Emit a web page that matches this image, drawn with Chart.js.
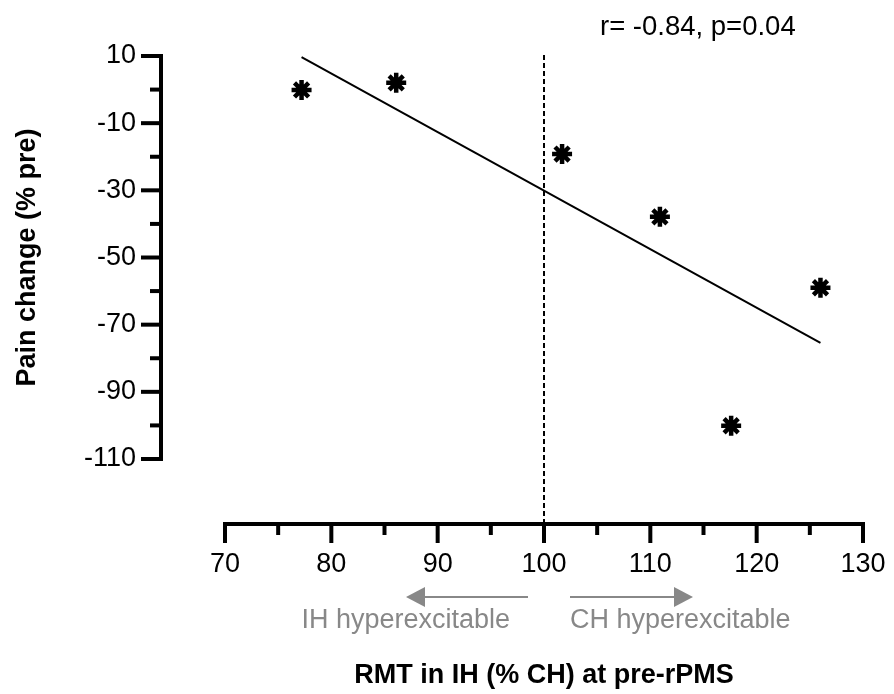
<!DOCTYPE html>
<html>
<head>
<meta charset="utf-8">
<script src="https://cdn.jsdelivr.net/npm/chart.js@4.4.0/dist/chart.umd.min.js"></script>
<style>
  html, body { margin: 0; padding: 0; background: #fff; }
</style>
</head>
<body>
<canvas id="painChart" width="894" height="694"></canvas>
<script>
// RMT in IH (% CH) at pre-rPMS vs pain change (% pre)
const rmtValues = [77.2, 86.1, 101.7, 110.9, 117.6, 126.0];
const painValues = [-0.1, 2.0, -19.2, -37.9, -100.1, -59.0];

// regression line end points
const fitX = [77.2, 126.0];
const fitY = [9.7, -75.4];

const xTickLabels = [70, 80, 90, 100, 110, 120, 130];
const xMinorTicks = [75, 85, 95, 105, 115, 125];
const yTickLabels = [10, -10, -30, -50, -70, -90, -110];
const yMinorTicks = [0, -20, -40, -60, -80, -100];

const thresholdX = 100;
const statsText = "r= -0.84, p=0.04";
const leftNote = "IH hyperexcitable";
const rightNote = "CH hyperexcitable";

const FONT = "'Liberation Sans', Arial, sans-serif";
const GREY = '#888888';

// axes are drawn detached from the data area (Prism style)
const offsetAxes = {
    id: 'offsetAxes',
    beforeDatasetsDraw(chart) {
        const ctx = chart.ctx;
        const xs = chart.scales.x, ys = chart.scales.y;
        const axisY = chart.chartArea.bottom + 65;
        const px = xs.getPixelForValue(thresholdX);
        ctx.save();
        ctx.strokeStyle = '#000';
        ctx.lineWidth = 2;
        ctx.setLineDash([5, 3]);
        ctx.beginPath();
        ctx.moveTo(px, ys.getPixelForValue(yTickLabels[0]) - 1);
        ctx.lineTo(px, axisY);
        ctx.stroke();
        ctx.restore();
    },
    afterDraw(chart) {
        const ctx = chart.ctx;
        const xs = chart.scales.x, ys = chart.scales.y;
        const ca = chart.chartArea;
        const axisX = ca.left - 64;
        const axisY = ca.bottom + 65;
        ctx.save();
        ctx.strokeStyle = '#000';
        ctx.lineWidth = 4;
        ctx.lineCap = 'butt';

        // y axis
        ctx.beginPath();
        ctx.moveTo(axisX, ys.getPixelForValue(yTickLabels[0]) - 2);
        ctx.lineTo(axisX, ys.getPixelForValue(yTickLabels[yTickLabels.length - 1]) + 2);
        ctx.stroke();
        yTickLabels.forEach(v => {
            const y = ys.getPixelForValue(v);
            ctx.beginPath(); ctx.moveTo(axisX, y); ctx.lineTo(axisX - 20, y); ctx.stroke();
        });
        yMinorTicks.forEach(v => {
            const y = ys.getPixelForValue(v);
            ctx.beginPath(); ctx.moveTo(axisX, y); ctx.lineTo(axisX - 11, y); ctx.stroke();
        });

        // x axis
        ctx.beginPath();
        ctx.moveTo(xs.getPixelForValue(xTickLabels[0]) - 2, axisY);
        ctx.lineTo(xs.getPixelForValue(xTickLabels[xTickLabels.length - 1]) + 2, axisY);
        ctx.stroke();
        xTickLabels.forEach(v => {
            const x = xs.getPixelForValue(v);
            ctx.beginPath(); ctx.moveTo(x, axisY); ctx.lineTo(x, axisY + 19); ctx.stroke();
        });
        xMinorTicks.forEach(v => {
            const x = xs.getPixelForValue(v);
            ctx.beginPath(); ctx.moveTo(x, axisY); ctx.lineTo(x, axisY + 11); ctx.stroke();
        });

        // direction arrows under the x axis
        const px = xs.getPixelForValue(thresholdX);
        const ay = 597;
        ctx.strokeStyle = GREY;
        ctx.fillStyle = GREY;
        ctx.lineWidth = 2;
        ctx.beginPath(); ctx.moveTo(px - 16, ay); ctx.lineTo(px - 120, ay); ctx.stroke();
        ctx.beginPath(); ctx.moveTo(px - 138, ay); ctx.lineTo(px - 119, ay - 10); ctx.lineTo(px - 119, ay + 10); ctx.closePath(); ctx.fill();
        ctx.beginPath(); ctx.moveTo(px + 26, ay); ctx.lineTo(px + 132, ay); ctx.stroke();
        ctx.beginPath(); ctx.moveTo(px + 149, ay); ctx.lineTo(px + 130, ay - 10); ctx.lineTo(px + 130, ay + 10); ctx.closePath(); ctx.fill();

        ctx.font = '27px ' + FONT;
        ctx.textBaseline = 'alphabetic';
        ctx.textAlign = 'right';
        ctx.fillText(leftNote, px - 34, 628);
        ctx.textAlign = 'left';
        ctx.fillText(rightNote, px + 26, 628);

        // stats annotation
        ctx.fillStyle = '#000';
        ctx.font = '27.5px ' + FONT;
        ctx.textAlign = 'left';
        ctx.fillText(statsText, 600, 35);
        ctx.restore();
    }
};

const points = rmtValues.map((x, i) => ({ x: x, y: painValues[i] }));
const fitLine = fitX.map((x, i) => ({ x: x, y: fitY[i] }));

new Chart(document.getElementById('painChart'), {
    type: 'scatter',
    data: {
        datasets: [
            {
                label: 'Patients',
                data: points,
                pointStyle: 'star',
                pointRadius: 10,
                pointBorderWidth: 4.5,
                borderColor: '#000',
                backgroundColor: '#000',
                clip: false
            },
            {
                label: 'Fit',
                data: fitLine,
                showLine: true,
                pointRadius: 0,
                borderColor: '#000',
                borderWidth: 2,
                clip: false
            }
        ]
    },
    options: {
        responsive: false,
        animation: false,
        devicePixelRatio: 1,
        layout: { padding: { top: 56, right: 31, left: 0, bottom: 0 } },
        plugins: {
            legend: { display: false },
            tooltip: { enabled: false }
        },
        scales: {
            x: {
                type: 'linear',
                min: 70,
                max: 130,
                afterFit: s => { s.height = 235; s.paddingLeft = 0; s.paddingRight = 0; },
                afterBuildTicks: s => { s.ticks = xTickLabels.map(v => ({ value: v })); },
                grid: { display: false, drawTicks: false },
                border: { display: false },
                ticks: {
                    padding: 89,
                    color: '#000',
                    font: { family: FONT, size: 27 },
                    maxRotation: 0,
                    autoSkip: false
                },
                title: {
                    display: true,
                    text: 'RMT in IH (% CH) at pre-rPMS',
                    color: '#000',
                    font: { family: FONT, size: 27, weight: 'bold' },
                    padding: { top: 0, bottom: 2 }
                }
            },
            y: {
                type: 'linear',
                min: -110,
                max: 10,
                afterFit: s => { s.width = 225; s.paddingTop = 0; s.paddingBottom = 0; },
                afterBuildTicks: s => { s.ticks = yTickLabels.map(v => ({ value: v })); },
                grid: { display: false, drawTicks: false },
                border: { display: false },
                ticks: {
                    padding: 89,
                    color: '#000',
                    font: { family: FONT, size: 27 },
                    autoSkip: false
                },
                title: {
                    display: true,
                    text: 'Pain change (% pre)',
                    color: '#000',
                    font: { family: FONT, size: 27, weight: 'bold' },
                    padding: { top: 11, bottom: 0 }
                }
            }
        }
    },
    plugins: [offsetAxes]
});
</script>
</body>
</html>
